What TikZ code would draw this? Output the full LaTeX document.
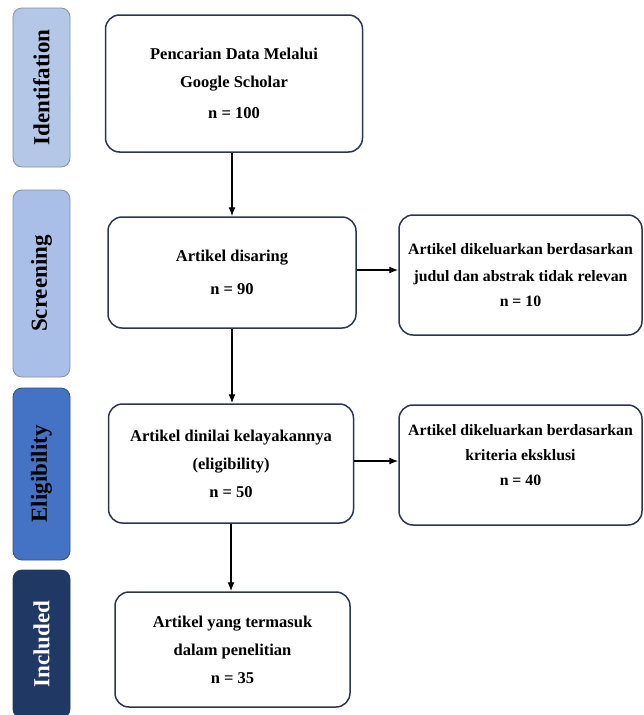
\documentclass[tikz,border=0pt]{standalone}
\usepackage{fontspec}
\setmainfont{Liberation Serif}
\usepackage{tikz}
\usetikzlibrary{arrows.meta}
\definecolor{idfill}{HTML}{B4C7E7}
\definecolor{scfill}{HTML}{A9BFE8}
\definecolor{elfill}{HTML}{4472C4}
\definecolor{infill}{HTML}{1F3864}
\definecolor{barline}{HTML}{8390A8}
\definecolor{boxline}{HTML}{2B3550}

\begin{document}
\begin{tikzpicture}[x=1pt, y=-1pt,
    box/.style={draw=boxline, line width=1.5pt, rounded corners=14pt, fill=white,
        align=center, inner sep=0pt, font=\bfseries\fontsize{16.5}{28}\selectfont},
    exbox/.style={box, font=\bfseries\fontsize{15.8}{27}\selectfont},
    bar/.style={draw=barline, line width=0.8pt, rounded corners=9pt, rotate=90,
        inner sep=0pt, minimum height=57pt, font=\bfseries\fontsize{23}{26}\selectfont},
    flow/.style={-{Latex[length=9pt, width=7pt]}, line width=1.3pt}]
            \useasboundingbox (0, 0) rectangle (643, 715);

            % phases on the left
            \node[bar, fill=idfill, minimum width=159pt] (idbar) at (41.5, 87.5) {Identifation};
            \node[bar, fill=scfill, minimum width=187pt] (scbar) at (41.5, 283.5) {Screening};
            \node[bar, fill=elfill, draw=elfill!70!black, minimum width=172pt] (elbar) at (41.5, 474) {Eligibility};
            \node[bar, fill=infill, draw=infill, text=white, minimum width=148pt] (inbar) at (41.5, 644) {Included};

            % main flow
            \node[box, minimum width=257pt, minimum height=137pt] (search) at (234, 83.5)
                {Pencarian Data Melalui\\Google Scholar\\[3pt]n = 100};
            \node[box, minimum width=248pt, minimum height=111pt] (screen) at (232, 272.5)
                {Artikel disaring\\[5pt]n = 90};
            \node[box, minimum width=245pt, minimum height=119pt] (elig) at (231, 463.5)
                {Artikel dinilai kelayakannya\\(eligibility)\\n = 50};
            \node[box, minimum width=235pt, minimum height=115pt] (incl) at (232.5, 649.5)
                {Artikel yang termasuk\\dalam penelitian\\n = 35};

            % excluded
            \node[exbox, minimum width=243pt, minimum height=120pt] (excl1) at (520.5, 275)
                {Artikel dikeluarkan berdasarkan\\judul dan abstrak tidak relevan\\[-2pt]n = 10};
            \node[exbox, minimum width=243pt, minimum height=120pt] (excl2) at (520.5, 465)
                {Artikel dikeluarkan berdasarkan\\[-2pt]kriteria eksklusi\\[-2pt]n = 40\\[-8pt]\mbox{}};

            \draw[flow] (search.south -| screen.north) -- (screen.north);
            \draw[flow] (screen.south) -- (screen.south |- elig.north);
            \draw[flow] (elig.south) -- (elig.south |- incl.north);
            \draw[flow] (screen.east |- 0, 270) -- (excl1.west |- 0, 270);
            \draw[flow] (elig.east |- 0, 461) -- (excl2.west |- 0, 461);
        \end{tikzpicture}
\end{document}
